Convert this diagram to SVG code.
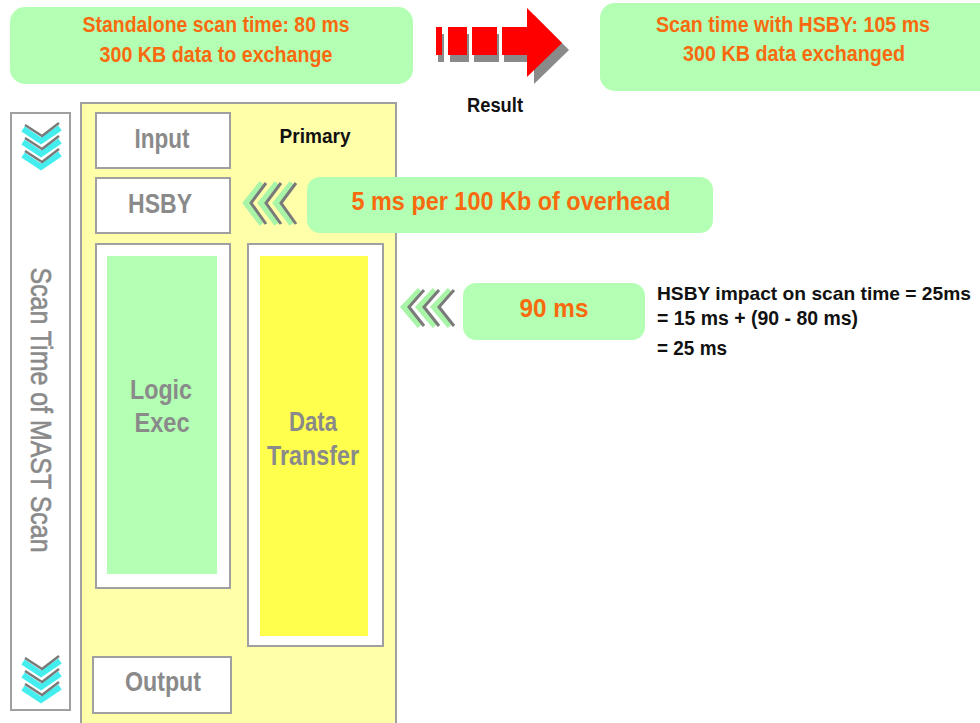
<svg xmlns="http://www.w3.org/2000/svg" width="980" height="723" viewBox="0 0 980 723">
<style>
.gbox{fill:#B3FFB3;}
.or{font-family:"Liberation Sans",Arial,sans-serif;font-weight:bold;fill:#F96A0E;text-anchor:middle;}
.gt{font-family:"Liberation Sans",Arial,sans-serif;font-weight:bold;fill:#8A8A8A;text-anchor:middle;font-size:27px;}
.bk{font-family:"Liberation Sans",Arial,sans-serif;font-weight:bold;fill:#111;}
.wb{fill:#FFFFFF;stroke:#A0A0A0;stroke-width:2;}
.cy{fill:none;stroke:#44EEEE;stroke-width:6;}
.cg{fill:none;stroke:#7A7A7A;stroke-width:2.5;}
.lg{fill:none;stroke:#A8F5A8;stroke-width:6;}
.lgr{fill:none;stroke:#7A7A7A;stroke-width:3;}
</style>
<rect width="980" height="723" fill="#FFFFFF"/>

<g id="standalone">
<rect class="gbox" x="10" y="7" width="403" height="77" rx="15"/>
<text class="or" x="216" y="32" font-size="22" textLength="267" lengthAdjust="spacingAndGlyphs">Standalone scan time: 80 ms</text>
<text class="or" x="216" y="62" font-size="22" textLength="233" lengthAdjust="spacingAndGlyphs">300 KB data to exchange</text>
</g>

<g id="result-arrow">
<g fill="#8A8A8A">
<rect x="438" y="34" width="6" height="28"/>
<rect x="450" y="34" width="19" height="28"/>
<rect x="474" y="34" width="25" height="28"/>
<rect x="504" y="34" width="28" height="28"/>
<polygon points="534,15 569,50 534,84"/>
</g>
<g fill="#FF0000">
<rect x="436" y="27" width="6" height="28"/>
<rect x="448" y="27" width="19" height="28"/>
<rect x="472" y="27" width="25" height="28"/>
<rect x="502" y="27" width="26" height="28"/>
<polygon points="527,8 562,43 527,77"/>
</g>
<text class="bk" x="495" y="112" font-size="20" text-anchor="middle" textLength="56" lengthAdjust="spacingAndGlyphs">Result</text>
</g>

<g id="with-hsby">
<rect class="gbox" x="600" y="3" width="400" height="88" rx="15"/>
<text class="or" x="793" y="32" font-size="22" textLength="274" lengthAdjust="spacingAndGlyphs">Scan time with HSBY: 105 ms</text>
<text class="or" x="794" y="61" font-size="22" textLength="222" lengthAdjust="spacingAndGlyphs">300 KB data exchanged</text>
</g>

<g id="scan-bar">
<rect class="wb" x="11" y="113" width="59" height="597"/>
<text x="31" y="410" transform="rotate(90 31 410)" font-family="'Liberation Sans',Arial,sans-serif" font-size="30" fill="#8A8A8A" stroke="#8A8A8A" stroke-width="0.6" text-anchor="middle" textLength="285" lengthAdjust="spacingAndGlyphs">Scan Time of MAST Scan</text>
<g id="chev-top">
<polyline class="cy" points="23,129 41,141 60,128"/>
<polyline class="cy" points="23,142 41,154 60,141"/>
<polyline class="cy" points="23,155 41,167 60,154"/>
<polyline class="cg" points="25,125 42,136 59,123"/>
<polyline class="cg" points="25,138 42,149 59,136"/>
<polyline class="cg" points="25,151 42,162 59,149"/>
</g>
<g id="chev-bottom" transform="translate(0,533)">
<polyline class="cy" points="23,129 41,141 60,128"/>
<polyline class="cy" points="23,142 41,154 60,141"/>
<polyline class="cy" points="23,155 41,167 60,154"/>
<polyline class="cg" points="25,125 42,136 59,123"/>
<polyline class="cg" points="25,138 42,149 59,136"/>
<polyline class="cg" points="25,151 42,162 59,149"/>
</g>
</g>

<g id="primary">
<rect x="81" y="103" width="315" height="625" fill="#FFFFAA" stroke="#A0A0A0" stroke-width="2"/>
<text class="bk" x="315" y="143" font-size="21" text-anchor="middle" textLength="71" lengthAdjust="spacingAndGlyphs">Primary</text>
</g>

<g id="input">
<rect class="wb" x="96" y="113" width="134" height="55"/>
<text class="gt" x="162" y="148" textLength="55" lengthAdjust="spacingAndGlyphs">Input</text>
</g>

<g id="hsby">
<rect class="wb" x="96" y="178" width="134" height="55"/>
<text class="gt" x="160" y="213" textLength="64" lengthAdjust="spacingAndGlyphs">HSBY</text>
</g>

<g id="logic-exec">
<rect class="wb" x="96" y="244" width="134" height="344"/>
<rect x="107" y="256" width="110" height="318" fill="#B3FFB3"/>
<text class="gt" x="161" y="399" textLength="62" lengthAdjust="spacingAndGlyphs">Logic</text>
<text class="gt" x="162" y="432" textLength="55" lengthAdjust="spacingAndGlyphs">Exec</text>
</g>

<g id="data-transfer">
<rect class="wb" x="248" y="244" width="135" height="402"/>
<rect x="260" y="256" width="108" height="380" fill="#FFFF4D"/>
<text class="gt" x="313" y="431" textLength="48" lengthAdjust="spacingAndGlyphs">Data</text>
<text class="gt" x="313" y="465" textLength="92" lengthAdjust="spacingAndGlyphs">Transfer</text>
</g>

<g id="output">
<rect class="wb" x="93" y="657" width="138" height="56"/>
<text class="gt" x="163" y="691" textLength="76" lengthAdjust="spacingAndGlyphs">Output</text>
</g>

<g id="connectors">
<g id="chev-hsby">
<polyline class="lg" points="262,183 246,203 262,224"/>
<polyline class="lg" points="277,183 261,203 277,224"/>
<polyline class="lg" points="292,183 276,203 292,224"/>
<polyline class="lgr" points="266,183 251,203 266,224"/>
<polyline class="lgr" points="281,183 266,203 281,224"/>
<polyline class="lgr" points="296,183 281,203 296,224"/>
</g>
<g id="chev-90">
<polyline class="lg" points="420,290 404,307 420,326"/>
<polyline class="lg" points="435,290 419,307 435,326"/>
<polyline class="lg" points="450,290 434,307 450,326"/>
<polyline class="lgr" points="424,290 409,307 424,326"/>
<polyline class="lgr" points="439,290 424,307 439,326"/>
<polyline class="lgr" points="454,290 439,307 454,326"/>
</g>
</g>

<g id="overhead">
<rect class="gbox" x="307" y="177" width="406" height="56" rx="13"/>
<text class="or" x="511" y="210" font-size="26" textLength="319" lengthAdjust="spacingAndGlyphs">5 ms per 100 Kb of overhead</text>
</g>

<g id="ninety">
<rect class="gbox" x="463" y="283" width="182" height="57" rx="13"/>
<text class="or" x="554" y="317" font-size="26" textLength="69" lengthAdjust="spacingAndGlyphs">90 ms</text>
</g>

<g id="impact">
<text class="bk" x="657" y="300" font-size="19" textLength="314" lengthAdjust="spacingAndGlyphs">HSBY impact on scan time = 25ms</text>
<text class="bk" x="657" y="325" font-size="20" textLength="201" lengthAdjust="spacingAndGlyphs">= 15 ms + (90 - 80 ms)</text>
<text class="bk" x="657" y="355" font-size="20" textLength="70" lengthAdjust="spacingAndGlyphs">= 25 ms</text>
</g>
</svg>
